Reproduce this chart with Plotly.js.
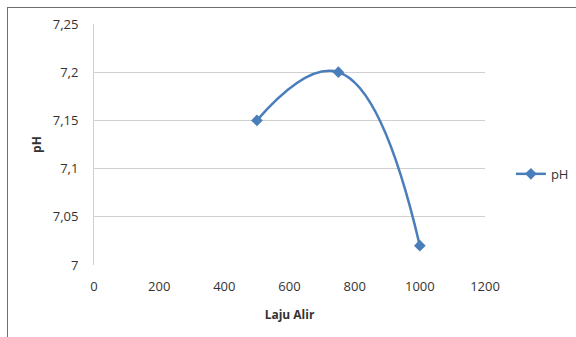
<!DOCTYPE html>
<html>
<head>
<meta charset="utf-8">
<script src="https://cdn.plot.ly/plotly-3.0.1.min.js"></script>
<style>
  html, body { margin: 0; padding: 0; background: #ffffff; }
  #wrap { position: relative; width: 576px; height: 337px; overflow: hidden; }
  #chart { position: absolute; left: 0; top: 0; width: 576px; height: 337px; }
  #frame { position: absolute; left: 7px; top: 7px; width: 600px; height: 400px;
           border-left: 1.5px solid #6e6e6e; border-top: 1.5px solid #6e6e6e;
           pointer-events: none; }
</style>
</head>
<body>
<div id="wrap">
  <div id="chart"></div>
  <div id="frame"></div>
</div>
<script>
// Flow rate (Laju Alir) against measured pH
const flowRate = [500, 750, 1000];
const phValues = [7.15, 7.2, 7.02];
const seriesName = 'pH';

const xTickVals = [0, 200, 400, 600, 800, 1000, 1200];
const xTickText = ['0', '200', '400', '600', '800', '1000', '1200'];
const yTickVals = [7, 7.05, 7.1, 7.15, 7.2, 7.25];
const yTickText = ['7', '7,05', '7,1', '7,15', '7,2', '7,25'];

const lineBlue = '#4a7ebb';
const gridGray = '#d0d0d0';
const textColor = '#333333';
const fontFamily = '"Open Sans", "Noto Sans", sans-serif';

const trace = {
  x: flowRate,
  y: phValues,
  name: seriesName,
  type: 'scatter',
  mode: 'lines+markers',
  line: { color: lineBlue, width: 2.5, shape: 'spline', smoothing: 1.3 },
  marker: { symbol: 'diamond', size: 9, color: lineBlue }
};

const layout = {
  width: 576,
  height: 337,
  margin: { l: 94, r: 91, t: 24, b: 72, autoexpand: false },
  paper_bgcolor: '#ffffff',
  plot_bgcolor: '#ffffff',
  separators: ', ',
  font: { family: fontFamily, size: 13, color: textColor },
  showlegend: true,
  legend: {
    xref: 'container', yref: 'container',
    x: 0.887, y: 0.484, xanchor: 'left', yanchor: 'middle',
    font: { family: fontFamily, size: 13, color: textColor },
    bgcolor: 'rgba(0,0,0,0)'
  },
  xaxis: {
    range: [0, 1200],
    tickvals: xTickVals,
    ticktext: xTickText,
    showgrid: false,
    zeroline: false,
    showline: false,
    ticks: '',
    ticklabelstandoff: 12,
    title: { text: '<b>Laju Alir</b>', font: { family: fontFamily, size: 12, color: textColor }, standoff: 16 },
    fixedrange: true
  },
  yaxis: {
    range: [7, 7.25],
    tickvals: yTickVals,
    ticktext: yTickText,
    showgrid: true,
    gridcolor: gridGray,
    gridwidth: 1,
    zeroline: false,
    showline: true,
    linecolor: gridGray,
    linewidth: 1,
    ticks: '',
    ticklabelstandoff: 12,
    title: { text: '<b>pH</b>', font: { family: fontFamily, size: 12, color: textColor }, standoff: 8 },
    fixedrange: true
  }
};

Plotly.newPlot('chart', [trace], layout, { staticPlot: true, displayModeBar: false });
</script>
</body>
</html>
